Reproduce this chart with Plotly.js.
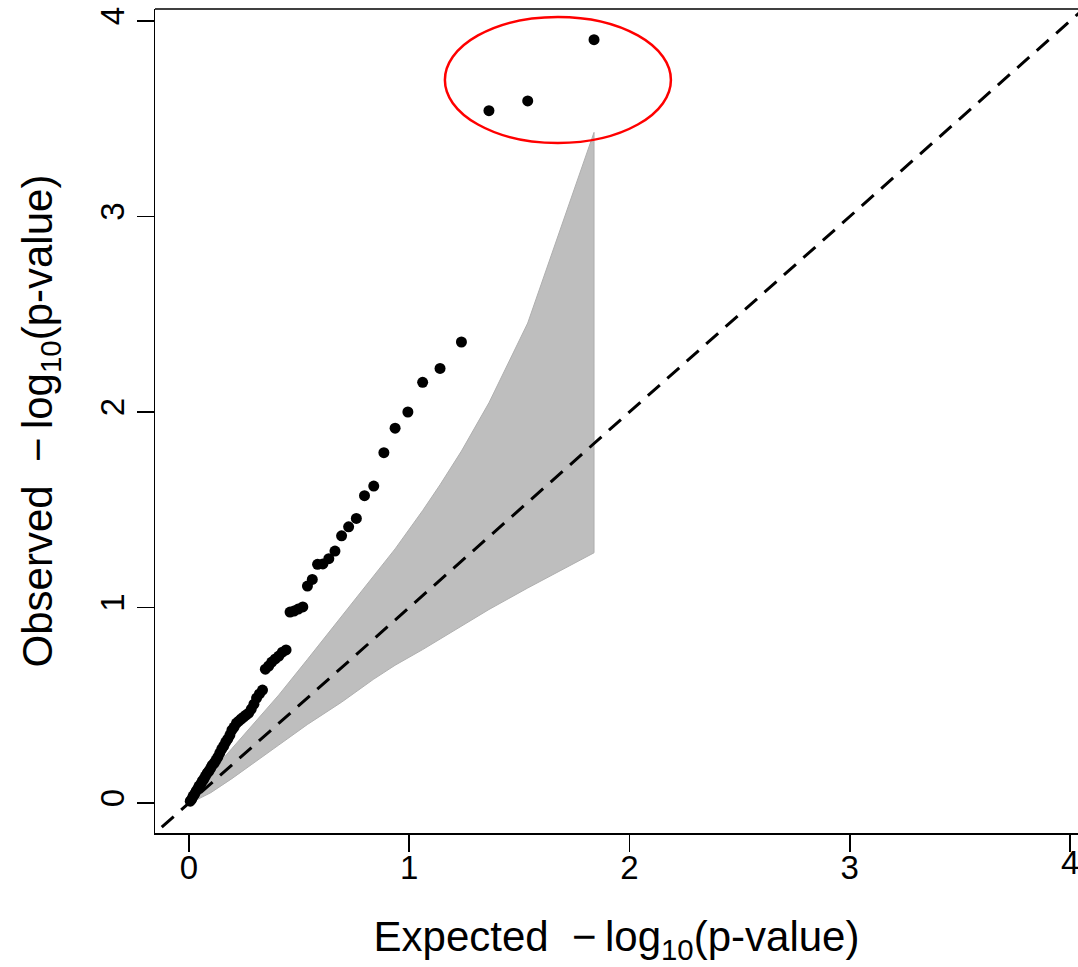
<!DOCTYPE html>
<html>
<head>
<meta charset="utf-8">
<script src="https://cdn.plot.ly/plotly-3.0.1.min.js"></script>
<style>html,body{margin:0;padding:0;background:#fff;overflow:hidden}</style>
</head>
<body>
<div id="chart" style="width:1078px;height:967px"></div>
<script>
// Expected -log10(p) for each observed point
const expected = [1.839,1.538,1.362,1.237,1.140,1.061,0.994,0.936,0.885,0.839,
  0.797,0.760,0.725,0.693,0.663,0.635,0.608,0.584,0.560,0.538,
  0.517,0.496,0.477,0.459,0.441,0.424,0.408,0.392,0.376,0.362,
  0.347,0.334,0.320,0.307,0.295,0.283,0.271,0.259,0.248,0.237,
  0.226,0.216,0.205,0.195,0.186,0.176,0.167,0.158,0.149,0.140,
  0.131,0.123,0.115,0.106,0.099,0.091,0.083,0.075,0.068,0.061,
  0.054,0.046,0.040,0.033,0.026,0.019,0.013,0.006];
// Observed -log10(p)
const observed = [3.904,3.591,3.541,2.358,2.223,2.152,2.000,1.917,1.792,1.621,
  1.572,1.456,1.413,1.367,1.289,1.250,1.223,1.221,1.144,1.110,
  1.003,0.992,0.982,0.977,0.783,0.772,0.752,0.737,0.721,0.701,
  0.685,0.578,0.558,0.537,0.506,0.481,0.460,0.450,0.440,0.430,
  0.419,0.409,0.389,0.373,0.348,0.327,0.312,0.292,0.276,0.256,
  0.235,0.220,0.205,0.194,0.179,0.164,0.153,0.138,0.123,0.113,
  0.097,0.087,0.072,0.061,0.046,0.036,0.020,0.010];
// Confidence band
const bandX     = [0.006,0.099,0.195,0.295,0.408,0.538,0.693,0.839,0.936,1.061,1.140,1.237,1.362,1.538,1.839];
const bandUpper = [0.024,0.155,0.279,0.409,0.553,0.735,0.955,1.158,1.300,1.496,1.628,1.800,2.047,2.455,3.430];
const bandLower = [0.0002,0.053,0.125,0.205,0.297,0.402,0.516,0.634,0.705,0.785,0.840,0.905,0.990,1.100,1.280];
// Diagonal reference
const diagX = [-0.3, 4.3];
// Ticks
const tickVals = [0,1,2,3,4];
const tickText = ['0','1','2','3','4'];
// Highlight ellipse (data coords)
const ellipse = {x0:1.162, x1:2.188, y0:3.376, y1:4.020};

const polyX = bandX.concat(bandX.slice().reverse());
const polyY = bandUpper.concat(bandLower.slice().reverse());

const traces = [
  {x: polyX, y: polyY, type:'scatter', mode:'lines', fill:'toself',
   fillcolor:'rgb(190,190,190)', line:{color:'rgb(175,175,175)', width:1}, hoverinfo:'skip'},
  {x: diagX, y: diagX, type:'scatter', mode:'lines',
   line:{color:'black', width:3, dash:'16px,10px'}, hoverinfo:'skip'},
  {x: expected, y: observed, type:'scatter', mode:'markers',
   marker:{color:'black', size:11}}
];

const fam = '"Liberation Sans", Arial, sans-serif';
const xTickText = tickText.slice(0, 4).concat(['']);
const layout = {
  width:1078, height:967,
  margin:{l:155, r:0, t:9, b:134},
  paper_bgcolor:'white', plot_bgcolor:'white',
  showlegend:false,
  font: {family:fam, color:'black'},
  xaxis:{range:[-0.154, 4.036], tickvals:tickVals, ticktext:xTickText,
    showgrid:false, zeroline:false, showline:true, linecolor:'black', linewidth:1.5,
    ticks:'outside', ticklen:17, tickwidth:1.5, tickcolor:'black', ticklabelstandoff:-12,
    tickfont:{size:33, family:fam, color:'black'},
    title:{text:'Expected  \u2212\u2009log<sub>10</sub>(p-value)', font:{size:42, family:fam, color:'black'}, standoff:36}},
  yaxis:{range:[-0.153, 4.061], tickvals:tickVals, ticktext:tickText, tickangle:-90,
    showgrid:false, zeroline:false, showline:true, linecolor:'black', linewidth:1.5,
    ticks:'outside', ticklen:17, tickwidth:1.5, tickcolor:'black', ticklabelstandoff:-1,
    tickfont:{size:33, family:fam, color:'black'},
    title:{text:'Observed  \u2212\u2009log<sub>10</sub>(p-value)', font:{size:42, family:fam, color:'black'}, standoff:28}},
  annotations:[
    {xref:'x', yref:'paper', x:tickVals[4], y:0, yshift:-29, text:tickText[4], showarrow:false,
     xanchor:'center', yanchor:'middle', font:{size:33, family:fam, color:'black'}}
  ],
  shapes:[
    {type:'line', xref:'paper', yref:'paper', x0:0, x1:1, y0:1, y1:1, line:{color:'black', width:1.5}},
    {type:'circle', xref:'x', yref:'y', x0:ellipse.x0, x1:ellipse.x1, y0:ellipse.y0, y1:ellipse.y1,
     line:{color:'red', width:2.5}}
  ]
};
Plotly.newPlot('chart', traces, layout, {staticPlot:true, displayModeBar:false});
</script>
</body>
</html>
